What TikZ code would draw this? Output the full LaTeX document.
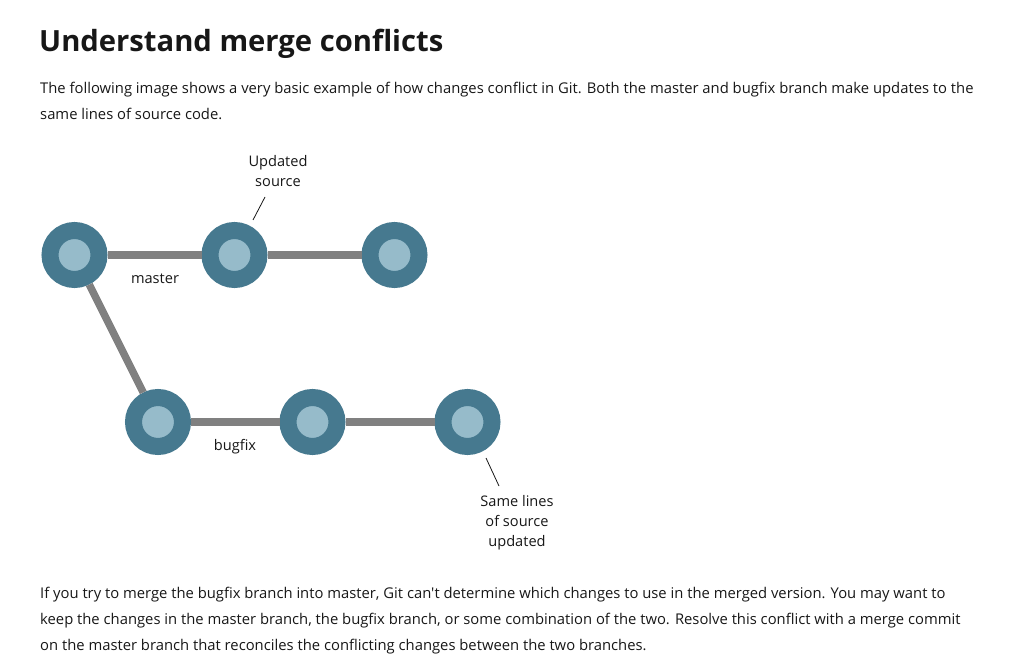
\documentclass[tikz,border=0pt]{standalone}
\usepackage{fontspec}
\setmainfont{Open Sans}[Ligatures=TeXOff]
\definecolor{ringblue}{HTML}{46798F}
\definecolor{coreblue}{HTML}{96BBCA}
\definecolor{linegray}{HTML}{808080}
\definecolor{inkdark}{HTML}{171717}
\begin{document}
\begin{tikzpicture}[x=1pt,y=-1pt,
    commit/.style={circle, draw=ringblue, fill=coreblue, line width=17pt, minimum size=49pt, inner sep=0pt},
    branch/.style={draw=linegray, line width=7.5pt},
    pointer/.style={draw=inkdark, line width=0.8pt},
    lbl/.style={text=inkdark, font=\fontsize{14.6}{19.8}\selectfont, align=center, inner sep=0pt},
    para/.style={text=inkdark, font=\fontsize{14.8}{26}\selectfont, align=left, anchor=base west, inner sep=0pt}]
    \useasboundingbox (0,0) rectangle (1013,669);
    % text above and below (base = last line)
    \node [text=inkdark, font=\fontsize{29.2}{34}\selectfont\bfseries, anchor=base west, inner sep=0pt] (title) at (39,52) {Understand merge conflicts};
    \node [para] (intro) at (40,120) {The following image shows a very basic example of how changes conflict in Git. Both the master and bugfix branch make updates to the\\same lines of source code.};
    \node [para] (outro) at (40,650) {If you try to merge the bugfix branch into master, Git can't determine which changes to use in the merged version. You may want to\\keep the changes in the master branch, the bugfix branch, or some combination of the two. Resolve this conflict with a merge commit\\on the master branch that reconciles the conflicting changes between the two branches.};
    % commits
    \node [commit] (m1) at (74.5,255) {};
    \node [commit] (m2) at (234.5,255) {};
    \node [commit] (m3) at (394.5,255) {};
    \node [commit] (b1) at (158,422) {};
    \node [commit] (b2) at (312.5,422) {};
    \node [commit] (b3) at (467.5,422) {};
    \draw [branch] (m1) -- (m2);
    \draw [branch] (m2) -- (m3);
    \draw [branch] (m1) -- (b1);
    \draw [branch] (b1) -- (b2);
    \draw [branch] (b2) -- (b3);
    % labels
    \node [lbl] (masterlbl) at (155,278.5) {master};
    \node [lbl] (bugfixlbl) at (235,446.5) {bugfix};
    \node [lbl] (updlbl) at (278,171) {Updated\\source};
    \node [lbl] (samelbl) at (517,523) {Same lines\\of source\\updated};
    \coordinate (updfrom) at (265,197);
    \coordinate (updto) at (253,220);
    \coordinate (samefrom) at (486,458);
    \coordinate (sameto) at (499,486);
    \draw [pointer] (updfrom) -- (updto);
    \draw [pointer] (samefrom) -- (sameto);
\end{tikzpicture}
\end{document}
